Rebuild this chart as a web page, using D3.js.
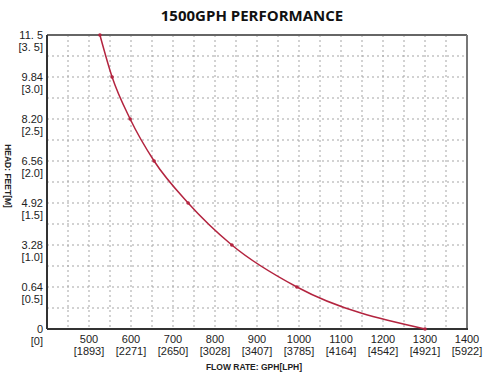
<!DOCTYPE html>
<html>
<head>
<meta charset="utf-8">
<script src="https://cdn.jsdelivr.net/npm/d3@7"></script>
<style>
  body { margin: 0; background: #fff; }
  text { font-family: 'Liberation Sans', Arial, sans-serif; }
</style>
</head>
<body>
<script>
// flow in GPH, head in metres
const flowGph = [526, 555, 598, 655, 736, 840, 995, 1300]
const headM = [3.5, 3.0, 2.5, 2.0, 1.5, 1.0, 0.5, 0]

const xTicks = [500, 600, 700, 800, 900, 1000, 1100, 1200, 1300, 1400]
const xTicksLph = ['[1893]', '[2271]', '[2650]', '[3028]', '[3407]', '[3785]', '[4164]', '[4542]', '[4921]', '[5922]']
const yTicks = [0, 0.5, 1.0, 1.5, 2.0, 2.5, 3.0, 3.5]
const yTicksFeet = ['0', '0.64', '3.28', '4.92', '6.56', '8.20', '9.84', '11. 5']
const yTicksM = ['[0]', '[0.5]', '[1.0]', '[1.5]', '[2.0]', '[2.5]', '[3.0]', '[3. 5]']

const width = 500
const height = 376
const margin = { top: 35, right: 33, bottom: 47, left: 47 }
const w = width - margin.left - margin.right
const h = height - margin.top - margin.bottom

const x = d3.scaleLinear().domain([400, 1400]).range([0, w])
const y = d3.scaleLinear().domain([0, 3.5]).range([h, 0])

const svg = d3.select('body').append('svg')
  .attr('width', width)
  .attr('height', height)

svg.append('text')
  .attr('x', 252)
  .attr('y', 21)
  .attr('text-anchor', 'middle')
  .style('font-family', "'Open Sans', sans-serif")
  .style('font-weight', 700)
  .style('font-size', '15px')
  .style('fill', '#111')
  .text('1500GPH PERFORMANCE')

const g = svg.append('g')
  .attr('transform', `translate(${margin.left}, ${margin.top})`)

// dotted grid
g.append('g')
  .selectAll('line')
  .data(d3.range(450, 1400, 50))
  .enter().append('line')
  .attr('x1', d => x(d)).attr('x2', d => x(d))
  .attr('y1', 0).attr('y2', h)
  .style('stroke', '#a5a5a5')
  .style('stroke-width', 1)
  .style('stroke-dasharray', '2,3')

g.append('g')
  .selectAll('line')
  .data(d3.range(0.25, 3.5, 0.25))
  .enter().append('line')
  .attr('x1', 0).attr('x2', w)
  .attr('y1', d => y(d)).attr('y2', d => y(d))
  .style('stroke', '#a5a5a5')
  .style('stroke-width', 1)
  .style('stroke-dasharray', '2,3')

// frame: top/right grey, left/bottom dark
g.append('line').attr('x1', 0).attr('x2', w).attr('y1', 0).attr('y2', 0)
  .style('stroke', '#666').style('stroke-width', 2)
g.append('line').attr('x1', w).attr('x2', w).attr('y1', 0).attr('y2', h)
  .style('stroke', '#777').style('stroke-width', 2)
g.append('line').attr('x1', 0).attr('x2', 0).attr('y1', 0).attr('y2', h)
  .style('stroke', '#333').style('stroke-width', 2)
g.append('line').attr('x1', 0).attr('x2', w + 1).attr('y1', h).attr('y2', h)
  .style('stroke', '#333').style('stroke-width', 2)

// x tick labels
const xt = g.append('g').selectAll('g')
  .data(xTicks)
  .enter().append('g')
  .attr('transform', d => `translate(${x(d)}, ${h})`)

xt.append('text')
  .attr('y', 14)
  .attr('text-anchor', 'middle')
  .style('font-size', '11px')
  .style('fill', '#222')
  .text(d => d)

xt.append('text')
  .attr('y', 26)
  .attr('text-anchor', 'middle')
  .style('font-size', '11px')
  .style('fill', '#222')
  .text((d, i) => xTicksLph[i])

// y tick labels
const yt = g.append('g').selectAll('g')
  .data(yTicks)
  .enter().append('g')
  .attr('transform', d => `translate(-4, ${y(d)})`)

yt.append('text')
  .attr('y', 4)
  .attr('text-anchor', 'end')
  .style('font-size', '11px')
  .style('fill', '#222')
  .text((d, i) => yTicksFeet[i])

yt.append('text')
  .attr('y', 16)
  .attr('text-anchor', 'end')
  .style('font-size', '11px')
  .style('fill', '#222')
  .text((d, i) => yTicksM[i])

// axis titles
svg.append('text')
  .attr('transform', 'translate(5, 176) rotate(90)')
  .attr('text-anchor', 'middle')
  .style('font-size', '8.5px')
  .style('font-weight', 700)
  .style('fill', '#222')
  .text('HEAD: FEET[M]')

svg.append('text')
  .attr('x', 254)
  .attr('y', 370)
  .attr('text-anchor', 'middle')
  .style('font-size', '8.5px')
  .style('font-weight', 700)
  .style('fill', '#222')
  .text('FLOW RATE: GPH[LPH]')

// performance curve
const pts = flowGph.map((f, i) => ({ f, m: headM[i] }))

const line = d3.line()
  .x(d => x(d.f))
  .y(d => y(d.m))
  .curve(d3.curveMonotoneX)

g.append('path')
  .datum(pts)
  .attr('d', line)
  .style('fill', 'none')
  .style('stroke', '#b3243f')
  .style('stroke-width', 1.5)

g.append('g').selectAll('circle')
  .data(pts)
  .enter().append('circle')
  .attr('cx', d => x(d.f))
  .attr('cy', d => y(d.m))
  .attr('r', 1.8)
  .style('fill', '#b3243f')
</script>
</body>
</html>
